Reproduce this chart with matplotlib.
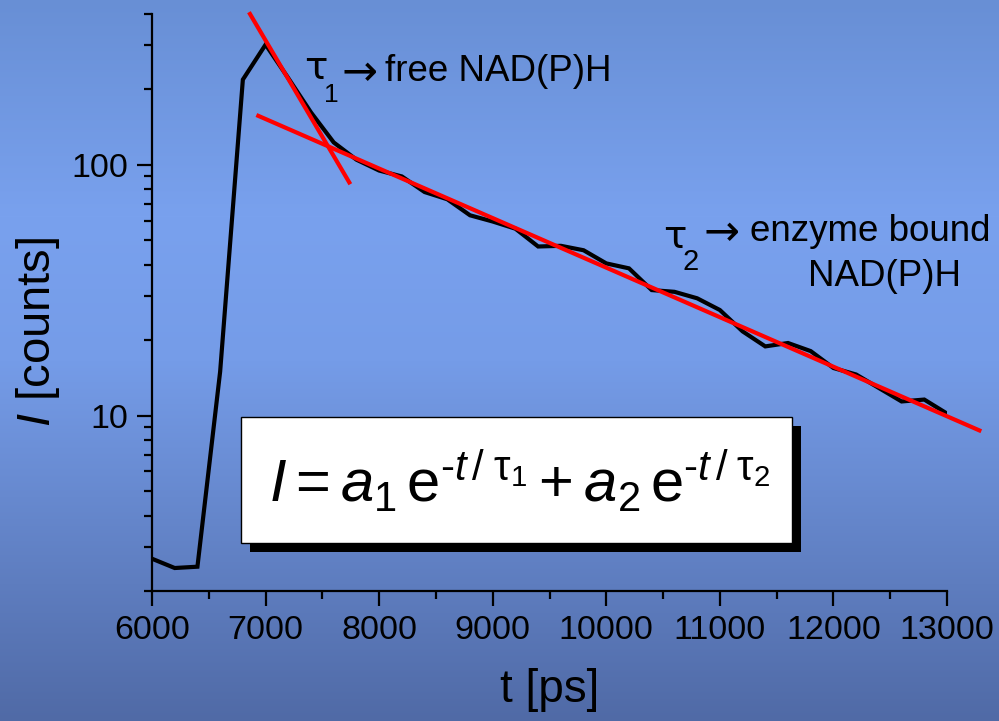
import numpy as np
import matplotlib
matplotlib.use('Agg')
import matplotlib.pyplot as plt
from matplotlib.patches import Rectangle
from matplotlib.ticker import FixedLocator, NullFormatter, FixedFormatter

# fluorescence decay (counts), sampled every 200 ps
t_ps = [6000, 6200, 6400, 6600, 6800, 7000, 7200, 7400, 7600, 7800,
        8000, 8200, 8400, 8600, 8800, 9000, 9200, 9400, 9600, 9800,
        10000, 10200, 10400, 10600, 10800, 11000, 11200, 11400, 11600, 11800,
        12000, 12200, 12400, 12600, 12800, 13000]
counts = [2.69, 2.47, 2.50, 15, 219, 302, 222, 162, 123, 105,
          95, 90, 78, 73, 63, 59.5, 55.7, 47.3, 47.6, 45.7,
          40.5, 38.7, 31.7, 31.2, 29.4, 26.4, 21.7, 18.9, 19.5, 18.1,
          15.5, 14.6, 12.9, 11.4, 11.6, 10.2]

# the two exponential fits (straight lines in log scale)
fit1_t = [6863, 7737]
fit1_v = [400, 85.2]
fit2_t = [6936, 13285]
fit2_v = [157, 8.74]

xticks = [6000, 7000, 8000, 9000, 10000, 11000, 12000, 13000]
yticks = [10, 100]

W, H = 999, 721

def px(x, y):
    # pixel position (from top left) -> figure fraction
    return x / W, 1 - y / H

plt.rcParams['mathtext.fontset'] = 'custom'
plt.rcParams['mathtext.rm'] = 'Liberation Sans'
plt.rcParams['mathtext.it'] = 'Liberation Sans:italic'
plt.rcParams['mathtext.bf'] = 'Liberation Sans:bold'
plt.rcParams['font.family'] = ['Liberation Sans', 'DejaVu Sans']

fig = plt.figure(figsize=(W / 100, H / 100), dpi=100)

# blue gradient background
bg = fig.add_axes([0, 0, 1, 1], zorder=-10)
stops = [0.0, 0.3, 0.5, 1.0]
r = np.interp(np.linspace(0, 1, H), stops, [104, 121, 117, 80])
g = np.interp(np.linspace(0, 1, H), stops, [143, 161, 156, 106])
b = np.interp(np.linspace(0, 1, H), stops, [213, 238, 232, 166])
grad = np.stack([r, g, b], axis=-1)[:, None, :] / 255.0
bg.imshow(np.repeat(grad, 2, axis=1), aspect='auto', extent=[0, 1, 0, 1])
bg.axis('off')

x0, y1 = px(152, 14)
x1, y0 = px(947, 591)
ax = fig.add_axes([x0, y0, x1 - x0, y1 - y0])
ax.patch.set_alpha(0)

ax.plot(t_ps, counts, color='black', lw=3, solid_joinstyle='miter', zorder=3)
ax.plot(fit1_t, fit1_v, color='#ff0000', lw=3, zorder=4, clip_on=False)
ax.plot(fit2_t, fit2_v, color='#ff0000', lw=3, zorder=4, clip_on=False)

ax.set_yscale('log')
ax.set_xlim(6000, 13000)
ax.set_ylim(2, 400)

for s in ['top', 'right']:
    ax.spines[s].set_visible(False)
for s in ['left', 'bottom']:
    ax.spines[s].set_linewidth(1.6)

ax.xaxis.set_major_locator(FixedLocator(xticks))
ax.xaxis.set_minor_locator(FixedLocator(np.arange(6500, 13000, 1000)))
ax.yaxis.set_major_locator(FixedLocator(yticks))
ax.yaxis.set_major_formatter(FixedFormatter([str(v) for v in yticks]))
ax.yaxis.set_minor_formatter(NullFormatter())
ax.tick_params(which='major', length=11, width=1.6, pad=6, color='black')
ax.tick_params(which='minor', length=6, width=1.6, color='black')

for lab in ax.get_xticklabels() + ax.get_yticklabels():
    lab.set_fontsize(24.5)

ax.set_xlabel('t [ps]', fontsize=33)
ax.xaxis.set_label_coords(*px(550, 668), transform=fig.transFigure)
ax.set_ylabel(r'$\mathit{I}$ [counts]', fontsize=34)
ax.yaxis.set_label_coords(*px(62, 332), transform=fig.transFigure)

# annotations
sym = ['DejaVu Sans']
fig.text(*px(304, 79), 'τ', fontsize=28, family=sym, va='baseline')
fig.text(*px(324, 102), '1', fontsize=19, va='baseline')
fig.text(*px(341, 85), '→', fontsize=31, family=sym, va='baseline')
fig.text(*px(385, 81), 'free NAD(P)H', fontsize=26.5, va='baseline')

fig.text(*px(663, 248), 'τ', fontsize=28, family=sym, va='baseline')
fig.text(*px(683, 270), '2', fontsize=21, va='baseline')
fig.text(*px(704, 245), '→', fontsize=31, family=sym, va='baseline')
fig.text(*px(750, 241), 'enzyme bound', fontsize=26.5, va='baseline')
fig.text(*px(808, 286), 'NAD(P)H', fontsize=26.5, va='baseline')

# formula box with drop shadow
sx, sy = px(250, 552)
fig.patches.append(Rectangle((sx, sy), 551 / W, 126 / H, transform=fig.transFigure,
                             facecolor='black', edgecolor='none', zorder=5))
bx, by = px(241, 543)
fig.patches.append(Rectangle((bx, by), 551 / W, 126 / H, transform=fig.transFigure,
                             facecolor='white', edgecolor='black', lw=1, zorder=6))
fig.text(*px(520, 502),
         r'$I=a_{\mathit{1}}\,\mathrm{e}^{\mathrm{‐}t\,/\;\mathrm{\tau}_{1}}+a_{2}\,\mathrm{e}^{\mathrm{‐}t\,/\;\mathrm{\tau}_{2}}$',
         fontsize=43, ha='center', va='baseline', zorder=7)

fig.savefig('out.png', dpi=100)
